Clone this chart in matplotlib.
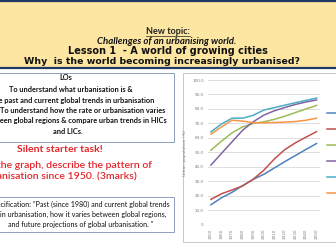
import matplotlib
matplotlib.use('Agg')
import matplotlib.pyplot as plt
from matplotlib.patches import Rectangle
from matplotlib.lines import Line2D
from matplotlib.transforms import IdentityTransform

years = [1950, 1960, 1970, 1980, 1990, 2000, 2010, 2020, 2030, 2040, 2050]
regions = ['Africa', 'Asia', 'Europe', 'Latin America and the Caribbean',
           'Northern America', 'Oceania']
africa = [13.8, 18.6, 22.4, 27.0, 31.3, 34.8, 39.2, 43.6, 47.8, 52.0, 56.1]
asia = [17.5, 21.4, 24.0, 26.8, 31.4, 37.6, 45.4, 51.9, 56.6, 60.5, 64.3]
europe = [51.5, 57.7, 63.5, 67.6, 70.0, 71.1, 72.8, 75.0, 77.5, 80.0, 82.4]
latin = [41.2, 49.3, 57.3, 65.3, 71.1, 75.7, 78.7, 81.0, 83.1, 84.8, 86.2]
north = [64.2, 69.6, 73.6, 73.6, 75.6, 79.2, 80.9, 82.6, 84.3, 85.9, 87.5]
oceania = [62.6, 67.6, 72.2, 71.6, 70.5, 70.4, 70.6, 70.9, 71.3, 72.2, 73.6]
series = [africa, asia, europe, latin, north, oceania]
colors = ['#4F81BD', '#C0504D', '#9BBB59', '#8064A2', '#4BACC6', '#F79646']
ytick_labels = ['0', '10.0', '20.0', '30.0', '40.0', '50.0', '60.0', '70.0',
                '80.0', '90.0', '100.0']

W, H = 336, 252
fig = plt.figure(figsize=(W / 100, H / 100), dpi=100)
fig.patch.set_facecolor('white')
renderer = fig.canvas.get_renderer()
px = IdentityTransform()


def box(x0, y0, x1, y1, **kw):
    fig.add_artist(Rectangle((x0, H - y1), x1 - x0, y1 - y0, transform=px,
                             zorder=-1, **kw))


def put(x, y, s, size=None, width=None, ha='center', **kw):
    t = fig.text(x, H - y, s, transform=px, ha=ha, va='center',
                 fontsize=size or 10, **kw)
    if width:
        bw = t.get_window_extent(renderer).width
        t.set_fontsize(10 * width / bw)
    return t


# header band
box(-2, 1, W + 2, 68, facecolor='#FCE6A2', edgecolor='#1F3864', linewidth=1.6)
t = put(168, 32, 'New topic:', width=44, family='Lato', weight='bold', color='#222222')
bb = t.get_window_extent(renderer)
fig.add_artist(Line2D([bb.x0, bb.x1], [bb.y0 + 0.5, bb.y0 + 0.5], transform=px,
                      color='#222222', lw=0.5))
put(167, 41, 'Challenges of an urbanising world.', width=138, family='Lato',
    weight='bold', style='italic', color='#111111')
put(167.5, 50.5, 'Lesson 1  - A world of growing cities', width=199,
    family='DejaVu Sans', weight='bold', color='#111111')
put(161.5, 61, 'Why  is the world becoming increasingly urbanised?', width=277,
    family='DejaVu Sans', weight='bold', color='#111111')

# learning objectives box
box(-5, 73, 174, 142, facecolor='white', edgecolor='#8EA0BC', linewidth=0.7)
t = put(71, 89, 'To understand what urbanisation is &', width=122,
        family='Lato', weight='bold', color='#111111')
fs = t.get_fontsize()
put(66, 78, 'LOs', size=fs, family='Lato', weight='bold', color='#111111')
put(154, 100, 'To know the past and current global trends in urbanisation', size=fs,
    ha='right', family='Lato', weight='bold', color='#111111')
put(165, 110.5, 'To understand how the rate or urbanisation varies', size=fs,
    ha='right', family='Lato', weight='bold', color='#111111')
put(167, 121, 'between global regions & compare urban trends in HICs', size=fs,
    ha='right', family='Lato', weight='bold', color='#111111')
put(68, 131, 'and LICs.', size=fs, family='Lato', weight='bold', color='#111111')

# starter task
red = '#E3262B'
t = put(59.5, 150, 'Silent starter task!', width=85, family='Lato', weight='bold',
        color=red)
fs2 = t.get_fontsize()
put(152, 165, 'Using the graph, describe the pattern of', size=fs2, ha='right',
    family='Lato', weight='semibold', color=red)
put(137, 177.5, 'urbanisation since 1950. (3marks)', size=fs2, ha='right',
    family='Lato', weight='semibold', color=red)

# spec box
box(-5, 197, 174, 232, facecolor='white', edgecolor='#8EA0BC', linewidth=0.7)
put(170, 204, 'Specification: "Past (since 1980) and current global trends',
    size=fs * 0.97, ha='right', family='Lato', color='#111111')
put(166, 214, 'in urbanisation, how it varies between global regions,',
    size=fs * 0.97, ha='right', family='Lato', color='#111111')
put(153, 224, 'and future projections of global urbanisation. "',
    size=fs * 0.97, ha='right', family='Lato', color='#111111')

# chart box
box(182.5, 72.5, W + 5, 241.5, facecolor='white', edgecolor='#C8C8C8', linewidth=0.7)

ax = fig.add_axes([208 / W, (H - 224.7) / H, 111.5 / W, 144.7 / H])
ax.set_zorder(2)
ax.set_facecolor('none')
lines = []
for vals, c, name in zip(series, colors, regions):
    lines += ax.plot(years, vals, color=c, lw=1.1, label=name)
ax.set_xlim(1947.2, 2052.8)
ax.set_ylim(0, 100)
ax.set_yticks(range(0, 101, 10))
ax.set_yticklabels(ytick_labels)
ax.set_xticks(years)
ax.set_xticklabels([str(y) for y in years], rotation=90)
ax.tick_params(length=0, labelsize=3, labelcolor='#7F7F7F', pad=3)
ax.grid(axis='y', color='#D9D9D9', lw=0.6)
ax.set_axisbelow(True)
for s in ax.spines.values():
    s.set_visible(False)
ax.set_ylabel('Urban population (%)', fontsize=3.2, color='#7F7F7F', labelpad=4)

# legend: the region names fall beyond the slide edge, only the keys show
ax.legend(lines, [''] * len(lines), loc='upper left',
          bbox_to_anchor=(326.5, H - 110.5), bbox_transform=px,
          frameon=False, fontsize=4.5, handlelength=2.5, labelspacing=1.7,
          borderpad=0, borderaxespad=0, handletextpad=0.6)

fig.savefig('out.png', dpi=100, facecolor='white')
